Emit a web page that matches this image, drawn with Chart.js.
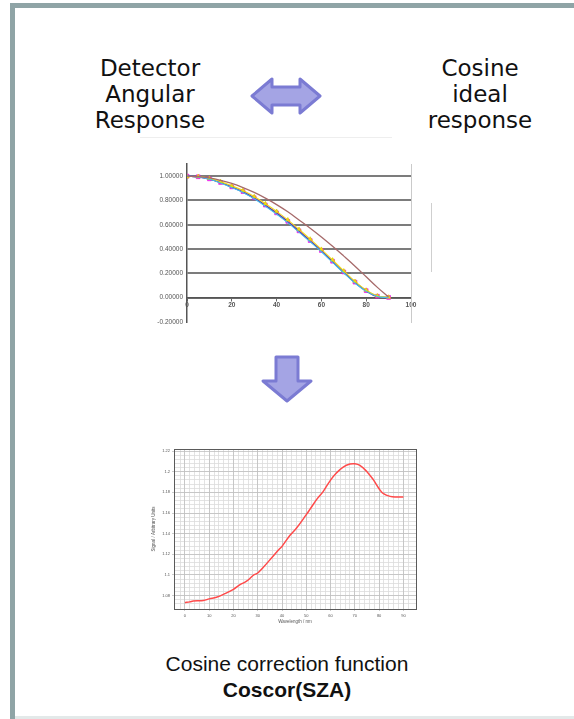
<!DOCTYPE html>
<html>
<head>
<meta charset="utf-8">
<script src="https://cdn.jsdelivr.net/npm/chart.js@4.4.1/dist/chart.umd.min.js"></script>
<style>
  html, body { margin: 0; padding: 0; background: #fff; }
  #page { position: relative; width: 574px; height: 719px; overflow: hidden; background: #fff; }
  .frameTop { position: absolute; left: 10px; top: 3px; width: 564px; height: 5px; background: #8fa4a6; }
  .frameLeft { position: absolute; left: 10px; top: 3px; width: 5px; height: 716px; background: #8fa4a6; }
  .frameBottom { position: absolute; left: 15px; top: 716px; width: 559px; height: 3px; background: #e3e9e9; }
  .head { position: absolute; width: 200px; font-family: "DejaVu Sans", sans-serif; font-size: 23px; line-height: 26px; text-align: center; color: #111; }
  .caption { position: absolute; left: 87px; width: 400px; font-family: "Liberation Sans", Arial, sans-serif; font-size: 21px; line-height: 26px; text-align: center; color: #111; }
  canvas { position: absolute; filter: blur(0.35px); }
  .faint { position: absolute; background: #e4e4e4; }
</style>
</head>
<body>
<div id="page">
  <div class="frameTop"></div>
  <div class="frameLeft"></div>
  <div class="frameBottom"></div>

  <div class="head" style="left:50px; top:55px;">Detector<br>Angular<br>Response</div>
  <div class="head" style="left:380px; top:55px;">Cosine<br>ideal<br>response</div>

  <svg style="position:absolute; left:0; top:0;" width="574" height="719">
    <!-- two-headed comparison arrow -->
    <path d="M252 96 L272 79 L272 87 L300 87 L300 79 L320 96 L300 113 L300 105 L272 105 L272 113 Z"
          fill="#a4a4e4" stroke="#7b7bd3" stroke-width="3" stroke-linejoin="round"/>
    <!-- downward arrow -->
    <path d="M276 357 L298 357 L298 381 L311 381 L287 401 L263 381 L276 381 Z"
          fill="#a4a4e4" stroke="#7b7bd3" stroke-width="3" stroke-linejoin="round"/>
  </svg>

  <div class="faint" style="left:140px; top:137px; width:252px; height:1px; background:#eeeeee;"></div>
  <div class="faint" style="left:431px; top:203px; width:1px; height:69px; background:#cfcfcf;"></div>

  <canvas id="angular" width="270" height="180" style="left:150px; top:150px;"></canvas>
  <canvas id="coscor" width="270" height="185" style="left:150px; top:440px;"></canvas>

  <div class="caption" style="top:651px;">Cosine correction function</div>
  <div class="caption" style="top:677px; font-weight:bold;">Coscor(SZA)</div>
</div>

<script>
// ---- Angular response (zenith angle in degrees) ----
const angleDeg = [0, 5, 10, 15, 20, 25, 30, 35, 40, 45, 50, 55, 60, 65, 70, 75, 80, 85, 90];
const cosineIdeal = [1.000, 0.996, 0.985, 0.966, 0.940, 0.906, 0.866, 0.819, 0.766, 0.707, 0.640, 0.572, 0.500, 0.423, 0.342, 0.259, 0.172, 0.085, 0.005];
const detectorCyan = [1.000, 0.993, 0.975, 0.944, 0.906, 0.866, 0.814, 0.753, 0.688, 0.618, 0.540, 0.460, 0.378, 0.290, 0.203, 0.120, 0.052, 0.010, 0.000];
const detectorPurple = [1.000, 0.994, 0.976, 0.946, 0.909, 0.869, 0.818, 0.758, 0.693, 0.623, 0.545, 0.465, 0.383, 0.295, 0.208, 0.124, 0.055, 0.008, 0.000];
const detectorYellow = [0.995, 0.997, 0.982, 0.955, 0.920, 0.882, 0.832, 0.773, 0.710, 0.640, 0.562, 0.482, 0.398, 0.310, 0.220, 0.134, 0.062, 0.015, 0.005];
const detectorMagenta = [1.000, 0.995, 0.978, 0.948, 0.912, 0.873, 0.822, 0.762, 0.698, 0.628, 0.550, 0.470, 0.388, 0.300, 0.212, 0.128, 0.058, 0.012, 0.002];
const angularYTicks = [-0.2, 0, 0.2, 0.4, 0.6, 0.8, 1.0];
const angularXTicks = [0, 20, 40, 60, 80, 100];

// ---- Cosine correction function ----
const corrAngle = [0, 2, 3.4, 7.6, 10, 13, 16.5, 20, 22.7, 25.4, 28.2, 30, 32.3, 36.4, 39.1, 40, 43.3, 46, 50, 51.5, 54.3, 57, 60, 62.5, 65.2, 68, 70, 72.1, 74.9, 77.6, 80, 81.8, 84.5, 87.2, 90];
const corrValue = [1.0732, 1.0739, 1.0748, 1.0752, 1.0768, 1.0784, 1.0819, 1.0861, 1.0906, 1.0939, 1.0997, 1.1019, 1.1074, 1.1184, 1.1255, 1.1277, 1.1384, 1.1455, 1.1584, 1.1635, 1.1732, 1.1810, 1.1919, 1.1990, 1.2045, 1.2074, 1.2077, 1.2061, 1.2003, 1.1923, 1.1835, 1.1787, 1.1761, 1.1755, 1.1755];
const corrXTicks = [0, 10, 20, 30, 40, 50, 60, 70, 80, 90];
const corrYTicks = [1.08, 1.1, 1.12, 1.14, 1.16, 1.18, 1.2, 1.22];

const pts = (xs, ys) => xs.map((x, i) => ({ x: x, y: ys[i] }));
const tickList = list => scale => { scale.ticks = list.map(v => ({ value: v })); };

new Chart(document.getElementById('angular'), {
  type: 'line',
  data: {
    datasets: [
      { label: 'Cosine', data: pts(angleDeg, cosineIdeal), borderColor: '#a66a6a', borderWidth: 1.3, pointRadius: 0, tension: 0.4 },
      { label: 'Detector 1', data: pts(angleDeg, detectorCyan), borderColor: '#45c0ee', borderWidth: 1.1, pointRadius: 0, tension: 0.4 },
      { label: 'Detector 3', data: pts(angleDeg, detectorYellow), borderColor: '#eede1e', borderWidth: 1.1, tension: 0.4,
        pointStyle: 'triangle', pointRadius: 2.4, pointBackgroundColor: '#f0de10', pointBorderColor: '#d8c400', pointBorderWidth: 0.6 },
      { label: 'Detector 2', data: pts(angleDeg, detectorPurple), borderColor: '#5a2a96', borderWidth: 1.3, pointRadius: 0, tension: 0.4 },
      { label: 'Detector 4', data: pts(angleDeg, detectorMagenta), borderColor: '#9a3ab8', borderWidth: 1.3, tension: 0.4,
        pointStyle: 'rect', pointRadius: 2.7, pointBackgroundColor: '#ff22ff', pointBorderColor: '#e000e0', pointBorderWidth: 0.6 }
    ]
  },
  options: {
    responsive: false,
    animation: false,
    layout: { padding: { left: 0, right: 9, top: 14, bottom: 8 } },
    plugins: { legend: { display: false }, tooltip: { enabled: false } },
    scales: {
      x: {
        type: 'linear', min: 0, max: 100, position: { y: 0 },
        afterBuildTicks: tickList(angularXTicks),
        ticks: { font: { family: 'Liberation Sans', size: 6.5, weight: 'bold' }, color: '#555', padding: 1, autoSkip: false, maxRotation: 0 },
        grid: { drawOnChartArea: false, drawTicks: true, tickLength: 3, color: '#666' },
        border: { color: '#555', width: 1.5 }
      },
      y: {
        type: 'linear', min: -0.2, max: 1.1,
        afterBuildTicks: tickList(angularYTicks),
        afterFit: s => { s.width = 37; },
        ticks: { callback: v => v.toFixed(5), font: { family: 'Liberation Sans', size: 6.5 }, color: '#555', padding: 4 },
        grid: { color: c => (c.tick && c.tick.value < -0.1) ? 'rgba(0,0,0,0)' : '#7c7c7c', lineWidth: 2, drawTicks: false },
        border: { color: '#555', width: 1.5 }
      },
      yRight: {
        type: 'linear', position: 'right', min: -0.2, max: 1.1,
        ticks: { display: false }, grid: { display: false },
        border: { color: '#cacaca', width: 1 },
        afterFit: s => { s.width = 0; }
      }
    }
  }
});

const minorFilter = step => scale => {
  scale.ticks = scale.ticks.filter(t => Math.abs(t.value / step - Math.round(t.value / step)) < 1e-6);
};

new Chart(document.getElementById('coscor'), {
  type: 'line',
  data: {
    datasets: [
      { label: 'Coscor', data: pts(corrAngle, corrValue), borderColor: '#ff4a4a', borderWidth: 1.5, pointRadius: 0, tension: 0.4 }
    ]
  },
  options: {
    responsive: false,
    animation: false,
    layout: { padding: { left: 0, right: 4, top: 9, bottom: 0 } },
    plugins: { legend: { display: false }, tooltip: { enabled: false } },
    scales: {
      xMinor: {
        type: 'linear', position: 'bottom', min: -4.5, max: 95.2, z: -1,
        ticks: { display: false, stepSize: 2 },
        afterBuildTicks: minorFilter(2),
        grid: { color: '#dcdcdc', lineWidth: 0.8, drawTicks: false },
        border: { display: false },
        afterFit: s => { s.height = 0; }
      },
      yMinor: {
        type: 'linear', position: 'left', min: 1.067, max: 1.222, z: -1,
        ticks: { display: false, stepSize: 0.004 },
        afterBuildTicks: minorFilter(0.004),
        grid: { color: '#dcdcdc', lineWidth: 0.8, drawTicks: false },
        border: { display: false },
        afterFit: s => { s.width = 0; }
      },
      x: {
        type: 'linear', position: 'bottom', min: -4.5, max: 95.2,
        afterBuildTicks: tickList(corrXTicks),
        afterFit: s => { s.height = 16; },
        ticks: { font: { family: 'Liberation Sans', size: 4 }, color: '#555', padding: 2, autoSkip: false, maxRotation: 0 },
        grid: { color: '#c0c0c0', lineWidth: 0.8, tickLength: 2 },
        border: { color: '#5a5a5a', width: 1 },
        title: { display: true, text: 'Wavelength / nm', font: { family: 'Liberation Sans', size: 4.5 }, color: '#555', padding: 1 }
      },
      y: {
        type: 'linear', position: 'left', min: 1.067, max: 1.222,
        afterBuildTicks: tickList(corrYTicks),
        afterFit: s => { s.width = 24; },
        ticks: { callback: v => String(parseFloat(v.toFixed(2))), font: { family: 'Liberation Sans', size: 4 }, color: '#555', padding: 2 },
        grid: { color: '#c0c0c0', lineWidth: 0.8, tickLength: 2 },
        border: { color: '#5a5a5a', width: 1 },
        title: { display: true, text: 'Signal / Arbitrary Units', font: { family: 'Liberation Sans', size: 4.5 }, color: '#555', padding: 1 }
      },
      xTop: {
        type: 'linear', position: 'top', min: -4.5, max: 95.2,
        ticks: { display: false }, grid: { display: false },
        border: { color: '#5a5a5a', width: 1 },
        afterFit: s => { s.height = 0; }
      },
      yRight: {
        type: 'linear', position: 'right', min: 1.067, max: 1.222,
        ticks: { display: false }, grid: { display: false },
        border: { color: '#5a5a5a', width: 1 },
        afterFit: s => { s.width = 0; }
      }
    }
  }
});
</script>
</body>
</html>
